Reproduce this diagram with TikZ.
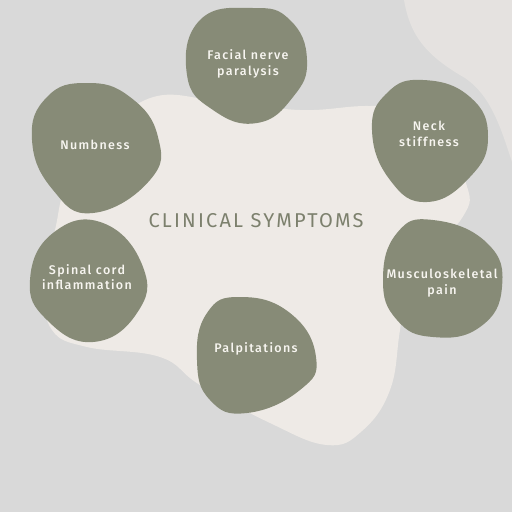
\documentclass[tikz,border=0pt]{standalone}
\usepackage{fontspec}
\setmainfont{Fira Sans}
\newfontfamily\labelfont[LetterSpace=11]{Fira Sans Medium}
\newfontfamily\headfont[LetterSpace=11]{Fira Sans}
\definecolor{bggray}{HTML}{D9D9D9}
\definecolor{paper}{HTML}{EEEAE6}
\definecolor{corner}{HTML}{E5E2E0}
\definecolor{sage}{HTML}{878B77}
\definecolor{chalk}{HTML}{F7F5F0}

\begin{document}
\begin{tikzpicture}[x=1pt, y=-1pt,
          blob/.style={fill=sage, draw=none},
          lbl/.style={font=\labelfont\fontsize{12.5}{15.5}\selectfont, text=chalk,
                      align=center, inner sep=0pt},
          heading/.style={font=\headfont\fontsize{20}{22}\selectfont, text=sage!92!black,
                      inner sep=0pt}
        ]
        \useasboundingbox (0,0) rectangle (512,512);
        \fill[bggray] (0,0) rectangle (512,512);

        % backdrop shapes
        \fill[corner] (404,0) .. controls (410,35) and (425,55) .. (465,78)
          .. controls (490,95) and (500,125) .. (512,162) -- (512,0) -- cycle;
        \fill[paper] plot[smooth cycle, tension=0.7] coordinates {
          (143,101) (220,101) (300,110) (370,106) (430,112) (465,180)
          (462,218) (410,270) (400,330) (390,390) (362,431) (327,445)
          (270,423) (200,385) (160,357) (87,347) (52,330) (46,290)
          (55,230) (75,170)};

        % symptom blobs
        \fill[blob] plot[smooth cycle, tension=0.8] coordinates {
          (200,20) (253,8) (290,20) (307,60) (293,97) (257,123) (213,110) (187,75)};
        \fill[blob] plot[smooth cycle, tension=0.8] coordinates {
          (47,97) (87,83) (130,97) (158,137) (150,180) (93,213) (53,190) (32,140)};
        \fill[blob] plot[smooth cycle, tension=0.8] coordinates {
          (387,93) (423,80) (470,97) (488,137) (470,177) (427,202) (390,180) (372,130)};
        \fill[blob] plot[smooth cycle, tension=0.8] coordinates {
          (53,233) (103,223) (143,267) (137,313) (93,342) (47,320) (30,280)};
        \fill[blob] plot[smooth cycle, tension=0.8] coordinates {
          (397,233) (433,220) (487,243) (502,287) (480,327) (433,337) (397,320) (383,280)};
        \fill[blob] plot[smooth cycle, tension=0.8] coordinates {
          (207,313) (240,297) (290,313) (316,357) (300,390) (247,413) (210,400) (197,360)};

        \node[heading] (title) at (256,221) {CLINICAL SYMPTOMS};
        \node[lbl] (facial) at (248,64) {Facial nerve\\paralysis};
        \node[lbl] (numb) at (95,145) {Numbness};
        \node[lbl] (neck) at (429,134) {Neck\\stiffness};
        \node[lbl] (spinal) at (87,277) {Spinal cord\\inflammation};
        \node[lbl] (muscle) at (442,283) {Musculoskeletal\\pain};
        \node[lbl] (palp) at (256,349) {Palpitations};
      \end{tikzpicture}
\end{document}
